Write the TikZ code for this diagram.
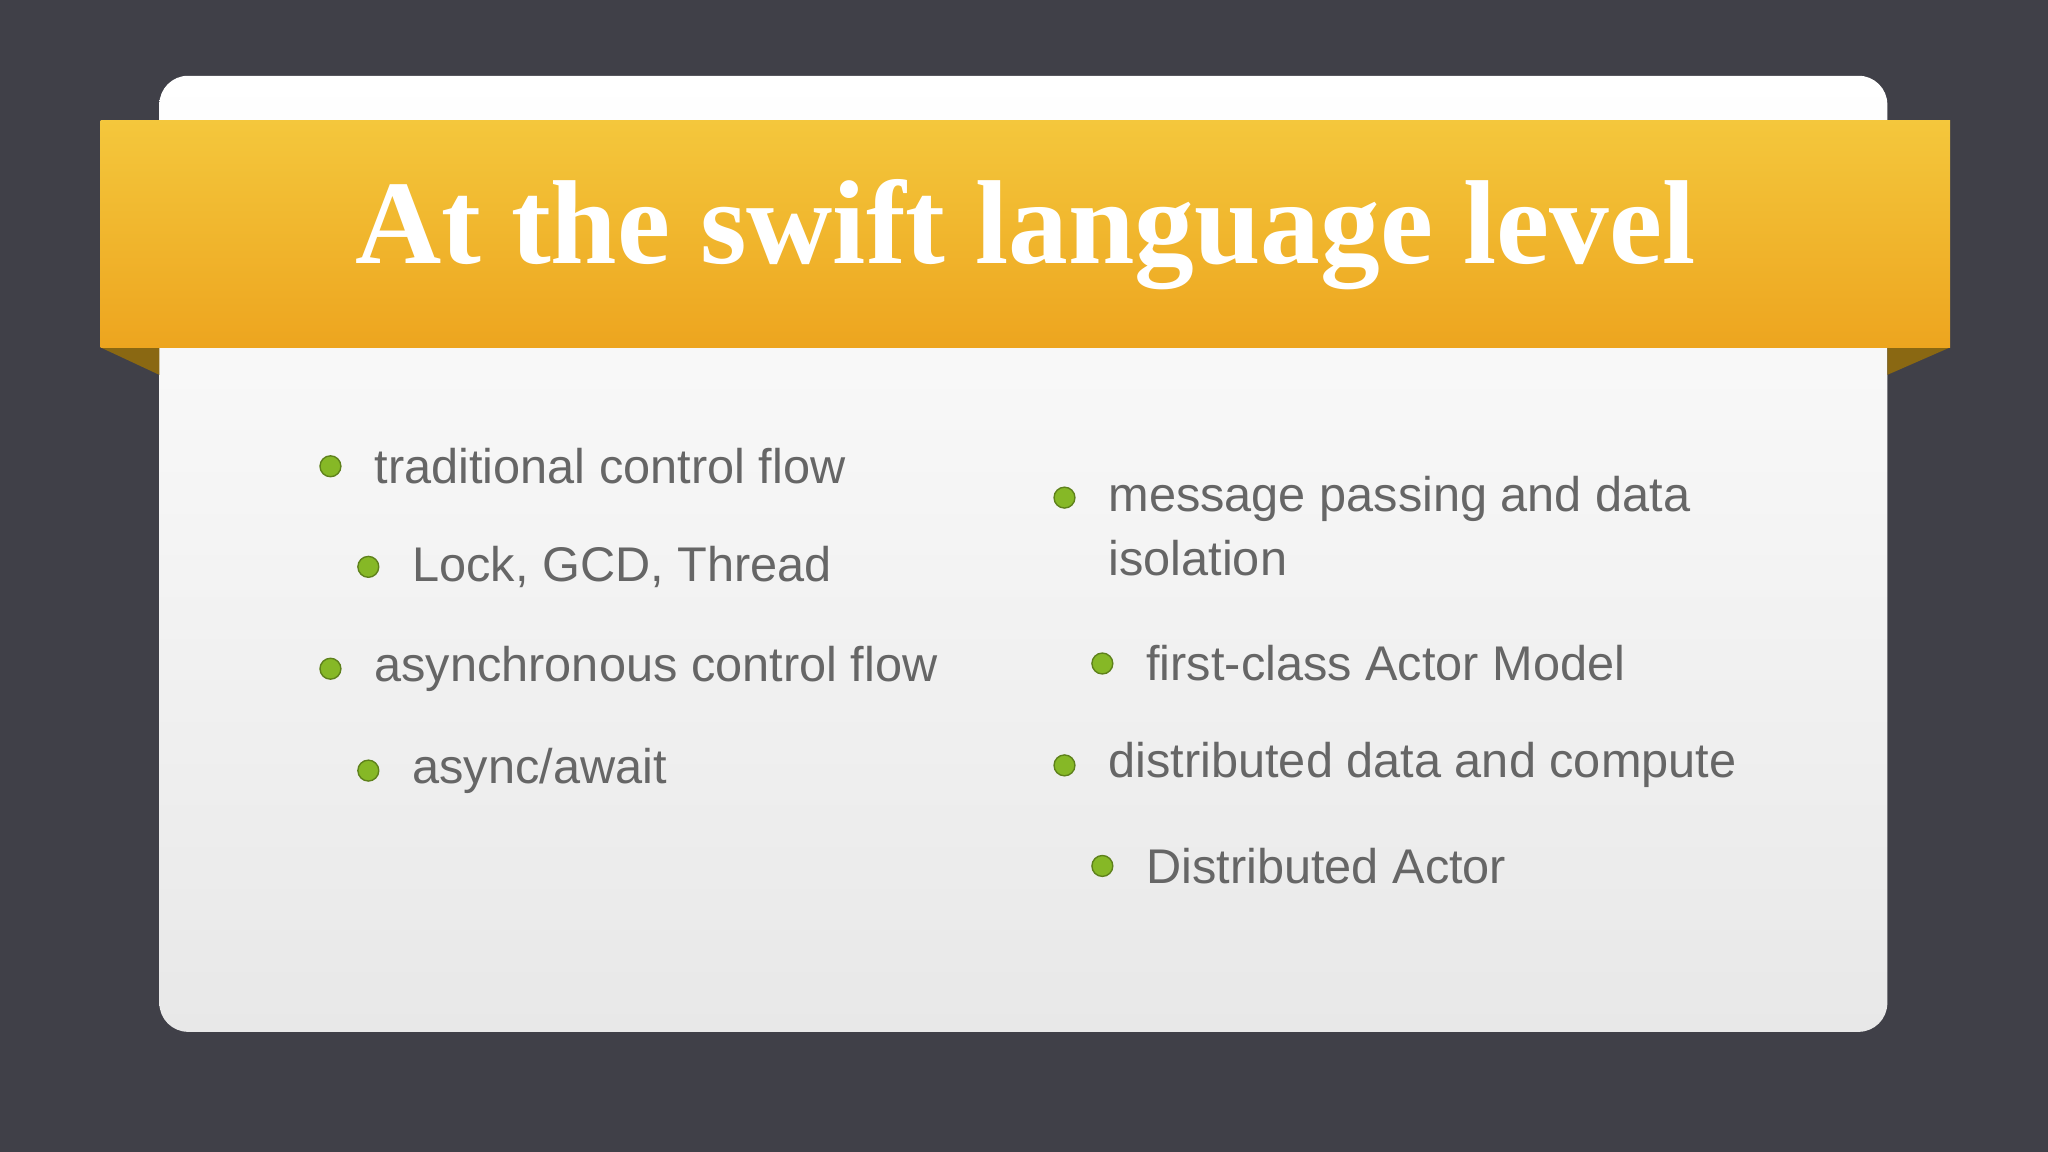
\documentclass[tikz,border=0pt]{standalone}
\usepackage{fontspec}
\setmainfont{Liberation Sans}
\newfontfamily\titlefont{Liberation Serif}
\definecolor{bg}{HTML}{404048}
\definecolor{ribtop}{HTML}{F4C73C}
\definecolor{ribbot}{HTML}{EDA51F}
\definecolor{fold}{HTML}{8A6812}
\definecolor{txt}{HTML}{666666}
\definecolor{bul}{HTML}{86B826}
\begin{document}
\begin{tikzpicture}[x=0.01cm,y=-0.01cm,
  item/.style={anchor=west,inner sep=0pt,text=txt,font=\fontsize{10.6}{15}\selectfont,align=left},
  dot/.style={circle,fill=bul,draw=bul!70!black,line width=0.3pt,minimum size=0.16cm,inner sep=0pt}]
\fill[bg] (0,0) rectangle (1568,882);
\useasboundingbox (0,0) rectangle (1568,882);
\shade[top color=white,bottom color=black!9,rounded corners=0.22cm] (122,58) rectangle (1445,790);
\fill[fold] (77,266) -- (122,266) -- (122,287) -- cycle;
\fill[fold] (1493,266) -- (1445,266) -- (1445,287) -- cycle;
\shade[top color=ribtop,bottom color=ribbot] (77,92) rectangle (1493,266);
\node[text=white,font=\titlefont\fontsize{26}{30}\selectfont\bfseries] (title) at (785,180) {At the swift language level};
\node[dot] (b1) at (253,357) {}; \node[item] (t1) at (286,357) {traditional control flow};
\node[dot] (b2) at (282,434) {}; \node[item] (t2) at (315,434) {Lock, GCD, Thread};
\node[dot] (b3) at (253,512) {}; \node[item] (t3) at (286,512) {asynchronous control flow};
\node[dot] (b4) at (282,590) {}; \node[item] (t4) at (315,590) {async/await};
\node[dot] (b5) at (815,381) {}; \node[item,anchor=north west] (t5) at (848,364) {message passing and data\\[-1pt]isolation};
\node[dot] (b6) at (844,508) {}; \node[item] (t6) at (877,508) {first-class Actor Model};
\node[dot] (b7) at (815,586) {}; \node[item] (t7) at (848,586) {distributed data and compute};
\node[dot] (b8) at (844,663) {}; \node[item] (t8) at (877,663) {Distributed Actor};
\end{tikzpicture}
\end{document}
